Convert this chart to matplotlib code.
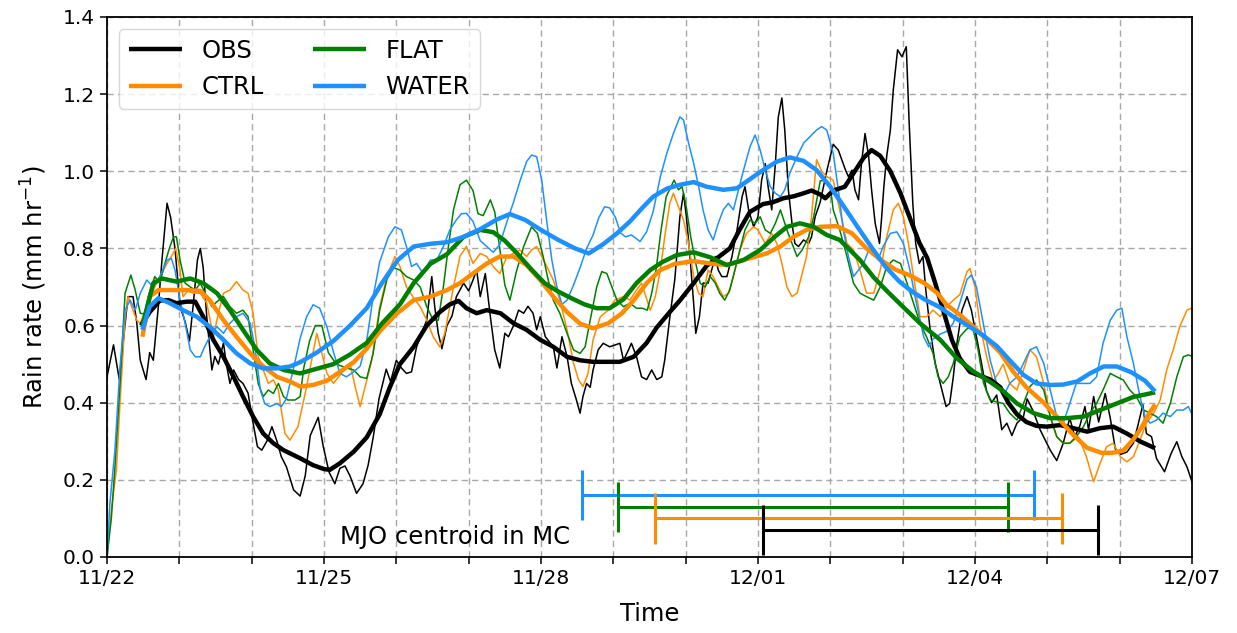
import numpy as np
import matplotlib
matplotlib.use("Agg")
import matplotlib.pyplot as plt
from matplotlib.ticker import MultipleLocator, FormatStrFormatter

# ---------------- data (time in days since 11/22 00Z) ----------------
obs_thin_t = [0.0, 0.09, 0.17, 0.29, 0.36, 0.41, 0.46, 0.54, 0.59, 0.64, 0.71, 0.76, 0.83, 0.88, 0.94, 1.01, 1.08, 1.14, 1.19, 1.25, 1.29, 1.33, 1.38, 1.45, 1.49, 1.54, 1.61, 1.65, 1.70, 1.75, 1.82, 1.88, 1.95, 2.02, 2.08, 2.14, 2.21, 2.28, 2.35, 2.41, 2.48, 2.58, 2.67, 2.74, 2.81, 2.92, 2.99, 3.07, 3.15, 3.22, 3.29, 3.36, 3.45, 3.54, 3.61, 3.68, 3.76, 3.86, 3.92, 4.0, 4.07, 4.14, 4.21, 4.28, 4.35, 4.42, 4.49, 4.53, 4.58, 4.63, 4.70, 4.77, 4.83, 4.93, 5.0, 5.06, 5.11, 5.16, 5.23, 5.30, 5.36, 5.43, 5.5, 5.55, 5.62, 5.69, 5.76, 5.82, 5.89, 5.94, 5.99, 6.06, 6.17, 6.22, 6.29, 6.36, 6.42, 6.49, 6.54, 6.58, 6.63, 6.68, 6.72, 6.79, 6.86, 6.95, 7.09, 7.14, 7.21, 7.25, 7.32, 7.39, 7.46, 7.53, 7.60, 7.67, 7.71, 7.78, 7.85, 7.92, 7.97, 8.01, 8.06, 8.11, 8.14, 8.19, 8.24, 8.31, 8.36, 8.41, 8.45, 8.5, 8.57, 8.64, 8.71, 8.78, 8.82, 8.87, 8.94, 9.0, 9.05, 9.1, 9.14, 9.19, 9.24, 9.28, 9.33, 9.37, 9.42, 9.47, 9.51, 9.56, 9.63, 9.7, 9.74, 9.79, 9.86, 9.95, 10.04, 10.11, 10.21, 10.25, 10.3, 10.34, 10.39, 10.43, 10.48, 10.53, 10.57, 10.62, 10.68, 10.71, 10.74, 10.78, 10.83, 10.87, 10.93, 10.99, 11.05, 11.09, 11.14, 11.18, 11.23, 11.28, 11.32, 11.38, 11.45, 11.52, 11.6, 11.65, 11.7, 11.75, 11.82, 11.89, 11.95, 12.02, 12.09, 12.16, 12.23, 12.3, 12.37, 12.44, 12.51, 12.58, 12.67, 12.72, 12.8, 12.9, 13.04, 13.13, 13.22, 13.31, 13.38, 13.45, 13.52, 13.57, 13.64, 13.71, 13.8, 13.87, 13.94, 14.01, 14.1, 14.19, 14.26, 14.32, 14.37, 14.44, 14.51, 14.62, 14.71, 14.79, 14.86, 14.93, 15.0]
obs_thin_v = [0.467, 0.55, 0.46, 0.675, 0.675, 0.61, 0.51, 0.46, 0.53, 0.51, 0.65, 0.77, 0.917, 0.88, 0.80, 0.65, 0.61, 0.56, 0.65, 0.77, 0.80, 0.75, 0.62, 0.485, 0.52, 0.50, 0.555, 0.50, 0.45, 0.485, 0.46, 0.45, 0.425, 0.347, 0.286, 0.277, 0.30, 0.338, 0.30, 0.26, 0.234, 0.174, 0.158, 0.21, 0.315, 0.362, 0.286, 0.22, 0.19, 0.23, 0.236, 0.21, 0.165, 0.19, 0.238, 0.31, 0.41, 0.487, 0.455, 0.51, 0.49, 0.476, 0.48, 0.545, 0.58, 0.614, 0.727, 0.65, 0.58, 0.54, 0.60, 0.625, 0.675, 0.71, 0.69, 0.718, 0.744, 0.675, 0.735, 0.623, 0.537, 0.49, 0.58, 0.571, 0.60, 0.64, 0.632, 0.65, 0.632, 0.589, 0.623, 0.571, 0.545, 0.49, 0.571, 0.52, 0.45, 0.407, 0.373, 0.416, 0.45, 0.44, 0.485, 0.537, 0.554, 0.545, 0.554, 0.51, 0.537, 0.554, 0.52, 0.467, 0.46, 0.485, 0.46, 0.467, 0.51, 0.62, 0.72, 0.882, 0.943, 0.882, 0.779, 0.658, 0.58, 0.623, 0.71, 0.71, 0.744, 0.779, 0.744, 0.727, 0.727, 0.779, 0.848, 0.934, 0.96, 0.90, 0.856, 0.882, 0.977, 1.02, 0.96, 0.90, 1.02, 1.14, 1.19, 1.107, 0.952, 0.865, 0.813, 0.805, 0.822, 0.813, 0.83, 0.882, 0.92, 1.0, 1.07, 1.055, 1.003, 0.986, 1.003, 0.952, 0.926, 1.02, 1.098, 1.038, 0.952, 0.865, 0.813, 0.882, 0.96, 1.04, 1.107, 1.21, 1.315, 1.297, 1.323, 1.124, 0.917, 0.813, 0.761, 0.779, 0.692, 0.589, 0.502, 0.45, 0.39, 0.398, 0.467, 0.554, 0.64, 0.675, 0.64, 0.571, 0.502, 0.43, 0.40, 0.42, 0.33, 0.347, 0.315, 0.347, 0.364, 0.41, 0.38, 0.33, 0.277, 0.25, 0.295, 0.36, 0.312, 0.34, 0.39, 0.33, 0.416, 0.35, 0.424, 0.36, 0.28, 0.266, 0.272, 0.295, 0.347, 0.395, 0.32, 0.312, 0.255, 0.221, 0.268, 0.299, 0.26, 0.234, 0.195]

ctrl_thin_t = [0.0, 0.065, 0.13, 0.18, 0.25, 0.29, 0.36, 0.41, 0.46, 0.55, 0.64, 0.73, 0.83, 0.89, 0.95, 1.01, 1.05, 1.12, 1.19, 1.29, 1.38, 1.47, 1.54, 1.61, 1.70, 1.79, 1.88, 1.95, 2.02, 2.09, 2.16, 2.23, 2.30, 2.37, 2.41, 2.46, 2.53, 2.64, 2.76, 2.9, 2.97, 3.04, 3.13, 3.24, 3.36, 3.43, 3.5, 3.57, 3.66, 3.77, 3.87, 3.98, 4.05, 4.14, 4.26, 4.33, 4.42, 4.51, 4.6, 4.67, 4.79, 4.88, 4.97, 5.06, 5.16, 5.25, 5.34, 5.43, 5.53, 5.62, 5.71, 5.8, 5.87, 5.94, 6.01, 6.08, 6.17, 6.26, 6.36, 6.45, 6.52, 6.58, 6.65, 6.72, 6.82, 6.93, 7.02, 7.14, 7.23, 7.32, 7.39, 7.45, 7.51, 7.58, 7.65, 7.71, 7.78, 7.83, 7.9, 7.97, 8.04, 8.11, 8.18, 8.24, 8.31, 8.38, 8.45, 8.52, 8.59, 8.66, 8.75, 8.84, 8.94, 9.0, 9.1, 9.19, 9.26, 9.33, 9.4, 9.47, 9.54, 9.6, 9.67, 9.74, 9.81, 9.88, 9.95, 10.04, 10.13, 10.23, 10.32, 10.41, 10.5, 10.6, 10.69, 10.78, 10.87, 10.94, 11.01, 11.08, 11.15, 11.24, 11.33, 11.42, 11.52, 11.61, 11.7, 11.79, 11.89, 11.93, 12.0, 12.07, 12.16, 12.25, 12.32, 12.39, 12.48, 12.58, 12.67, 12.76, 12.85, 12.95, 13.04, 13.13, 13.22, 13.31, 13.43, 13.54, 13.64, 13.73, 13.82, 13.91, 14.01, 14.1, 14.19, 14.28, 14.37, 14.47, 14.56, 14.65, 14.74, 14.83, 14.93, 14.99]
ctrl_thin_v = [0.0, 0.13, 0.226, 0.40, 0.62, 0.675, 0.64, 0.614, 0.606, 0.65, 0.692, 0.727, 0.761, 0.779, 0.80, 0.744, 0.675, 0.69, 0.684, 0.684, 0.658, 0.571, 0.632, 0.684, 0.692, 0.714, 0.692, 0.684, 0.632, 0.519, 0.485, 0.45, 0.459, 0.433, 0.381, 0.32, 0.303, 0.338, 0.442, 0.58, 0.528, 0.476, 0.45, 0.476, 0.502, 0.442, 0.39, 0.442, 0.51, 0.649, 0.727, 0.779, 0.753, 0.70, 0.666, 0.649, 0.614, 0.571, 0.545, 0.58, 0.70, 0.78, 0.805, 0.761, 0.787, 0.779, 0.753, 0.735, 0.779, 0.787, 0.796, 0.779, 0.796, 0.805, 0.779, 0.753, 0.718, 0.666, 0.589, 0.502, 0.459, 0.442, 0.476, 0.563, 0.623, 0.64, 0.666, 0.675, 0.666, 0.692, 0.71, 0.675, 0.64, 0.675, 0.744, 0.83, 0.917, 0.943, 0.908, 0.874, 0.813, 0.727, 0.684, 0.675, 0.744, 0.727, 0.70, 0.675, 0.684, 0.727, 0.796, 0.839, 0.856, 0.848, 0.813, 0.839, 0.813, 0.761, 0.70, 0.675, 0.684, 0.727, 0.779, 0.882, 1.03, 1.0, 0.986, 0.977, 0.90, 0.813, 0.796, 0.744, 0.684, 0.684, 0.744, 0.83, 0.90, 0.917, 0.882, 0.813, 0.727, 0.623, 0.623, 0.64, 0.623, 0.649, 0.666, 0.68, 0.74, 0.748, 0.70, 0.60, 0.52, 0.455, 0.476, 0.50, 0.45, 0.433, 0.485, 0.537, 0.519, 0.45, 0.364, 0.312, 0.295, 0.295, 0.312, 0.26, 0.195, 0.243, 0.286, 0.295, 0.26, 0.247, 0.26, 0.303, 0.347, 0.373, 0.407, 0.485, 0.537, 0.597, 0.64, 0.645]

flat_thin_t = [0.0, 0.06, 0.11, 0.18, 0.25, 0.33, 0.39, 0.46, 0.52, 0.57, 0.66, 0.73, 0.80, 0.87, 0.92, 0.96, 1.01, 1.08, 1.15, 1.22, 1.29, 1.38, 1.45, 1.52, 1.61, 1.70, 1.79, 1.88, 1.95, 2.02, 2.09, 2.16, 2.23, 2.30, 2.37, 2.44, 2.5, 2.6, 2.67, 2.72, 2.8, 2.88, 2.97, 3.06, 3.17, 3.31, 3.41, 3.5, 3.59, 3.68, 3.77, 3.87, 3.96, 4.05, 4.14, 4.24, 4.33, 4.42, 4.51, 4.58, 4.65, 4.72, 4.79, 4.88, 4.97, 5.06, 5.13, 5.2, 5.3, 5.36, 5.43, 5.5, 5.57, 5.66, 5.76, 5.87, 5.95, 6.03, 6.1, 6.17, 6.26, 6.36, 6.45, 6.54, 6.61, 6.68, 6.77, 6.84, 6.91, 6.98, 7.05, 7.14, 7.23, 7.32, 7.4, 7.47, 7.53, 7.59, 7.66, 7.73, 7.84, 7.9, 7.95, 8.0, 8.07, 8.14, 8.2, 8.27, 8.34, 8.41, 8.47, 8.54, 8.61, 8.68, 8.75, 8.82, 8.89, 8.96, 9.03, 9.1, 9.17, 9.24, 9.31, 9.4, 9.47, 9.54, 9.61, 9.7, 9.77, 9.86, 9.93, 10.0, 10.04, 10.13, 10.23, 10.32, 10.41, 10.5, 10.6, 10.69, 10.78, 10.87, 10.97, 11.06, 11.15, 11.24, 11.33, 11.42, 11.49, 11.56, 11.63, 11.7, 11.79, 11.88, 11.96, 12.04, 12.12, 12.21, 12.3, 12.39, 12.48, 12.58, 12.67, 12.76, 12.85, 12.95, 13.04, 13.13, 13.22, 13.31, 13.4, 13.5, 13.59, 13.68, 13.77, 13.87, 13.96, 14.05, 14.14, 14.23, 14.33, 14.42, 14.51, 14.6, 14.7, 14.79, 14.88, 14.95, 15.0]
flat_thin_v = [0.0, 0.10, 0.234, 0.45, 0.684, 0.731, 0.692, 0.632, 0.63, 0.675, 0.727, 0.71, 0.761, 0.805, 0.83, 0.83, 0.77, 0.71, 0.70, 0.692, 0.71, 0.675, 0.649, 0.662, 0.675, 0.649, 0.632, 0.64, 0.623, 0.537, 0.45, 0.416, 0.433, 0.424, 0.45, 0.416, 0.407, 0.407, 0.416, 0.49, 0.56, 0.60, 0.60, 0.53, 0.50, 0.49, 0.485, 0.467, 0.463, 0.528, 0.64, 0.72, 0.75, 0.744, 0.727, 0.718, 0.70, 0.649, 0.614, 0.614, 0.70, 0.805, 0.90, 0.965, 0.977, 0.95, 0.89, 0.885, 0.926, 0.895, 0.80, 0.705, 0.666, 0.74, 0.805, 0.856, 0.839, 0.779, 0.718, 0.666, 0.632, 0.58, 0.537, 0.528, 0.545, 0.614, 0.70, 0.74, 0.735, 0.70, 0.666, 0.649, 0.658, 0.645, 0.645, 0.64, 0.684, 0.744, 0.848, 0.934, 0.977, 0.952, 0.96, 0.917, 0.83, 0.761, 0.71, 0.70, 0.727, 0.71, 0.684, 0.666, 0.692, 0.744, 0.796, 0.848, 0.874, 0.865, 0.882, 0.848, 0.839, 0.865, 0.90, 0.848, 0.813, 0.779, 0.796, 0.83, 0.882, 0.975, 0.977, 0.96, 0.90, 0.848, 0.779, 0.71, 0.684, 0.675, 0.666, 0.70, 0.753, 0.77, 0.761, 0.71, 0.658, 0.606, 0.571, 0.528, 0.467, 0.45, 0.467, 0.502, 0.571, 0.59, 0.60, 0.54, 0.45, 0.407, 0.402, 0.398, 0.373, 0.355, 0.398, 0.442, 0.459, 0.433, 0.364, 0.312, 0.295, 0.295, 0.312, 0.338, 0.373, 0.398, 0.433, 0.476, 0.467, 0.459, 0.433, 0.416, 0.381, 0.373, 0.364, 0.347, 0.398, 0.467, 0.519, 0.524, 0.52]

water_thin_t = [0.0, 0.04, 0.11, 0.18, 0.25, 0.32, 0.39, 0.46, 0.55, 0.64, 0.73, 0.83, 0.89, 0.94, 1.01, 1.08, 1.15, 1.22, 1.29, 1.35, 1.42, 1.52, 1.61, 1.70, 1.79, 1.88, 1.98, 2.05, 2.12, 2.18, 2.25, 2.35, 2.41, 2.48, 2.58, 2.67, 2.76, 2.85, 2.94, 3.04, 3.13, 3.22, 3.31, 3.41, 3.5, 3.59, 3.68, 3.77, 3.89, 3.98, 4.07, 4.14, 4.21, 4.28, 4.37, 4.47, 4.56, 4.65, 4.74, 4.83, 4.9, 4.97, 5.06, 5.16, 5.25, 5.34, 5.43, 5.53, 5.62, 5.71, 5.8, 5.87, 5.94, 6.01, 6.08, 6.15, 6.22, 6.29, 6.36, 6.45, 6.54, 6.63, 6.72, 6.8, 6.88, 6.95, 7.03, 7.1, 7.17, 7.25, 7.37, 7.46, 7.55, 7.65, 7.74, 7.83, 7.92, 7.97, 8.04, 8.11, 8.18, 8.24, 8.31, 8.38, 8.45, 8.52, 8.59, 8.66, 8.73, 8.8, 8.89, 8.96, 9.03, 9.1, 9.17, 9.24, 9.31, 9.37, 9.44, 9.54, 9.63, 9.72, 9.81, 9.88, 9.95, 10.04, 10.11, 10.18, 10.25, 10.32, 10.39, 10.46, 10.53, 10.6, 10.66, 10.73, 10.83, 10.92, 11.01, 11.1, 11.19, 11.29, 11.36, 11.42, 11.52, 11.61, 11.7, 11.79, 11.89, 11.95, 12.02, 12.12, 12.21, 12.3, 12.39, 12.48, 12.58, 12.67, 12.76, 12.85, 12.95, 13.04, 13.13, 13.22, 13.31, 13.4, 13.5, 13.59, 13.68, 13.77, 13.87, 13.96, 14.03, 14.1, 14.19, 14.28, 14.35, 14.42, 14.51, 14.6, 14.7, 14.79, 14.88, 14.95, 15.0]
water_thin_v = [0.0, 0.139, 0.277, 0.494, 0.64, 0.666, 0.64, 0.684, 0.718, 0.70, 0.727, 0.77, 0.774, 0.744, 0.666, 0.606, 0.537, 0.519, 0.519, 0.545, 0.571, 0.597, 0.58, 0.606, 0.623, 0.632, 0.606, 0.537, 0.433, 0.398, 0.39, 0.398, 0.39, 0.41, 0.49, 0.567, 0.623, 0.654, 0.645, 0.597, 0.532, 0.476, 0.467, 0.48, 0.495, 0.56, 0.675, 0.765, 0.83, 0.856, 0.848, 0.805, 0.753, 0.761, 0.735, 0.77, 0.77, 0.805, 0.848, 0.874, 0.89, 0.891, 0.87, 0.82, 0.805, 0.79, 0.81, 0.87, 0.92, 0.975, 1.025, 1.042, 1.038, 0.977, 0.87, 0.77, 0.70, 0.655, 0.666, 0.705, 0.75, 0.80, 0.835, 0.88, 0.908, 0.905, 0.88, 0.84, 0.83, 0.835, 0.818, 0.843, 0.895, 0.986, 1.047, 1.098, 1.141, 1.133, 1.073, 1.021, 0.96, 0.90, 0.848, 0.822, 0.865, 0.90, 0.917, 0.90, 0.952, 1.003, 1.064, 1.094, 1.055, 1.003, 0.96, 0.943, 0.934, 0.952, 0.995, 1.038, 1.073, 1.09, 1.107, 1.116, 1.107, 1.047, 0.952, 0.848, 0.779, 0.727, 0.744, 0.761, 0.796, 0.787, 0.77, 0.805, 0.839, 0.843, 0.813, 0.744, 0.658, 0.571, 0.545, 0.565, 0.578, 0.585, 0.606, 0.658, 0.72, 0.731, 0.70, 0.60, 0.51, 0.45, 0.416, 0.45, 0.467, 0.502, 0.537, 0.545, 0.502, 0.433, 0.364, 0.347, 0.398, 0.45, 0.45, 0.45, 0.467, 0.554, 0.614, 0.64, 0.645, 0.571, 0.502, 0.416, 0.364, 0.347, 0.355, 0.373, 0.364, 0.381, 0.381, 0.39, 0.37]

obs_thick_t = [0.47, 0.59, 0.73, 0.85, 0.96, 1.1, 1.22, 1.33, 1.47, 1.61, 1.75, 1.88, 2.02, 2.16, 2.3, 2.44, 2.67, 2.85, 3.0, 3.08, 3.22, 3.41, 3.59, 3.77, 3.91, 4.05, 4.24, 4.42, 4.6, 4.74, 4.86, 4.97, 5.11, 5.25, 5.44, 5.62, 5.8, 5.99, 6.17, 6.36, 6.54, 6.72, 6.91, 7.09, 7.28, 7.46, 7.6, 7.78, 7.92, 8.11, 8.29, 8.47, 8.61, 8.75, 8.89, 9.07, 9.21, 9.35, 9.49, 9.63, 9.74, 9.86, 9.93, 10.04, 10.2, 10.32, 10.46, 10.57, 10.69, 10.83, 10.97, 11.11, 11.23, 11.34, 11.45, 11.56, 11.68, 11.79, 11.93, 12.07, 12.21, 12.35, 12.46, 12.58, 12.71, 12.85, 12.99, 13.18, 13.36, 13.55, 13.73, 13.91, 14.1, 14.29, 14.49]
obs_thick_v = [0.60, 0.635, 0.665, 0.666, 0.658, 0.662, 0.662, 0.623, 0.563, 0.519, 0.467, 0.416, 0.364, 0.32, 0.295, 0.277, 0.256, 0.238, 0.228, 0.226, 0.243, 0.273, 0.31, 0.37, 0.44, 0.50, 0.545, 0.60, 0.635, 0.655, 0.664, 0.645, 0.632, 0.64, 0.632, 0.606, 0.589, 0.563, 0.545, 0.519, 0.51, 0.506, 0.506, 0.506, 0.519, 0.555, 0.595, 0.635, 0.665, 0.71, 0.755, 0.78, 0.80, 0.85, 0.895, 0.915, 0.92, 0.93, 0.935, 0.943, 0.95, 0.94, 0.93, 0.95, 0.96, 0.995, 1.035, 1.055, 1.04, 1.0, 0.943, 0.874, 0.815, 0.775, 0.71, 0.64, 0.563, 0.515, 0.48, 0.47, 0.46, 0.44, 0.40, 0.37, 0.35, 0.34, 0.338, 0.342, 0.334, 0.325, 0.334, 0.338, 0.32, 0.299, 0.282]

ctrl_thick_t = [0.49, 0.59, 0.71, 0.92, 1.1, 1.29, 1.42, 1.61, 1.79, 1.98, 2.16, 2.35, 2.53, 2.67, 2.85, 3.04, 3.22, 3.41, 3.59, 3.77, 4.0, 4.24, 4.47, 4.7, 4.88, 5.06, 5.25, 5.43, 5.62, 5.8, 5.99, 6.17, 6.36, 6.54, 6.72, 6.93, 7.12, 7.28, 7.46, 7.65, 7.85, 8.11, 8.34, 8.57, 8.8, 9.12, 9.31, 9.49, 9.67, 9.86, 10.09, 10.3, 10.5, 10.7, 10.9, 11.1, 11.3, 11.48, 11.6, 11.79, 11.97, 12.16, 12.35, 12.53, 12.71, 12.95, 13.15, 13.35, 13.55, 13.75, 13.9, 14.05, 14.19, 14.3, 14.4, 14.49]
ctrl_thick_v = [0.571, 0.675, 0.692, 0.692, 0.692, 0.69, 0.666, 0.614, 0.571, 0.528, 0.494, 0.467, 0.455, 0.442, 0.446, 0.457, 0.48, 0.505, 0.54, 0.585, 0.63, 0.666, 0.675, 0.692, 0.71, 0.735, 0.761, 0.779, 0.779, 0.757, 0.718, 0.675, 0.635, 0.605, 0.593, 0.606, 0.632, 0.665, 0.71, 0.744, 0.76, 0.767, 0.761, 0.757, 0.77, 0.787, 0.805, 0.83, 0.848, 0.856, 0.858, 0.839, 0.80, 0.77, 0.745, 0.73, 0.71, 0.684, 0.655, 0.628, 0.598, 0.565, 0.53, 0.48, 0.44, 0.40, 0.36, 0.318, 0.283, 0.27, 0.27, 0.276, 0.305, 0.335, 0.37, 0.395]

flat_thick_t = [0.49, 0.64, 0.76, 0.96, 1.15, 1.33, 1.52, 1.7, 1.88, 2.07, 2.25, 2.44, 2.67, 2.9, 3.13, 3.36, 3.59, 3.8, 4.05, 4.24, 4.47, 4.7, 4.93, 5.16, 5.34, 5.5, 5.68, 5.87, 6.05, 6.24, 6.43, 6.6, 6.77, 6.95, 7.14, 7.32, 7.51, 7.68, 7.88, 8.11, 8.34, 8.57, 8.8, 9.03, 9.23, 9.4, 9.58, 9.77, 9.95, 10.13, 10.25, 10.41, 10.6, 10.78, 10.97, 11.24, 11.52, 11.75, 11.97, 12.2, 12.39, 12.58, 12.81, 13.04, 13.27, 13.5, 13.73, 13.96, 14.19, 14.37, 14.49]
flat_thick_v = [0.60, 0.71, 0.722, 0.714, 0.722, 0.71, 0.684, 0.64, 0.589, 0.537, 0.502, 0.485, 0.476, 0.488, 0.50, 0.525, 0.555, 0.605, 0.655, 0.71, 0.76, 0.785, 0.83, 0.848, 0.842, 0.82, 0.785, 0.745, 0.71, 0.688, 0.67, 0.655, 0.645, 0.645, 0.668, 0.71, 0.744, 0.765, 0.783, 0.79, 0.777, 0.757, 0.77, 0.796, 0.83, 0.856, 0.865, 0.856, 0.835, 0.822, 0.80, 0.77, 0.725, 0.69, 0.655, 0.606, 0.563, 0.515, 0.482, 0.455, 0.43, 0.398, 0.373, 0.36, 0.36, 0.364, 0.381, 0.398, 0.415, 0.422, 0.427]

water_thick_t = [0.49, 0.59, 0.71, 0.87, 1.05, 1.24, 1.42, 1.61, 1.79, 1.98, 2.16, 2.35, 2.53, 2.67, 2.9, 3.13, 3.36, 3.59, 3.8, 4.02, 4.24, 4.47, 4.7, 4.93, 5.16, 5.39, 5.57, 5.78, 6.0, 6.24, 6.47, 6.66, 6.86, 7.05, 7.23, 7.4, 7.55, 7.74, 7.92, 8.11, 8.29, 8.52, 8.71, 8.93, 9.07, 9.26, 9.44, 9.63, 9.81, 10.0, 10.2, 10.39, 10.58, 10.76, 10.95, 11.13, 11.32, 11.5, 11.7, 11.9, 12.1, 12.3, 12.48, 12.67, 12.85, 13.04, 13.22, 13.41, 13.59, 13.78, 13.96, 14.16, 14.35, 14.49]
water_thick_v = [0.589, 0.649, 0.671, 0.658, 0.64, 0.623, 0.597, 0.563, 0.528, 0.502, 0.489, 0.489, 0.494, 0.505, 0.53, 0.56, 0.60, 0.645, 0.71, 0.77, 0.805, 0.812, 0.816, 0.83, 0.85, 0.875, 0.889, 0.874, 0.848, 0.822, 0.80, 0.787, 0.811, 0.839, 0.87, 0.905, 0.934, 0.955, 0.965, 0.972, 0.96, 0.952, 0.956, 0.985, 1.003, 1.025, 1.036, 1.027, 1.003, 0.96, 0.905, 0.852, 0.80, 0.753, 0.715, 0.688, 0.666, 0.649, 0.623, 0.60, 0.576, 0.547, 0.51, 0.472, 0.45, 0.446, 0.447, 0.455, 0.476, 0.494, 0.494, 0.479, 0.457, 0.429]

# MJO centroid-in-MC periods (start day, end day, bar height)
mjo_names = ["WATER", "FLAT", "CTRL", "OBS"]
mjo_start = [6.57, 7.07, 7.57, 9.07]
mjo_end = [12.82, 12.45, 13.20, 13.70]
mjo_level = [0.161, 0.130, 0.100, 0.070]

names = ["OBS", "CTRL", "FLAT", "WATER"]
colors = {"OBS": "black", "CTRL": "darkorange", "FLAT": "green", "WATER": "dodgerblue"}

xtick_days = [0, 3, 6, 9, 12, 15]
xtick_labels = ["11/22", "11/25", "11/28", "12/01", "12/04", "12/07"]

# ---------------- plotting ----------------
plt.rcParams['font.family'] = ['DejaVu Sans']
fig = plt.figure(figsize=(12.37, 6.33), dpi=100)
ax = fig.add_axes([107/1237, 76/633, 1085/1237, 540/633])

thin = {"OBS": (obs_thin_t, obs_thin_v), "CTRL": (ctrl_thin_t, ctrl_thin_v),
        "FLAT": (flat_thin_t, flat_thin_v), "WATER": (water_thin_t, water_thin_v)}
thick = {"OBS": (obs_thick_t, obs_thick_v), "CTRL": (ctrl_thick_t, ctrl_thick_v),
         "FLAT": (flat_thick_t, flat_thick_v), "WATER": (water_thick_t, water_thick_v)}

for n in names:
    t, v = thin[n]
    ax.plot(t, v, color=colors[n], lw=1.1, zorder=2)
for n in names:
    t, v = thick[n]
    ax.plot(t, v, color=colors[n], lw=3.2, zorder=3, label=n,
            solid_capstyle='butt', solid_joinstyle='round')

cap = 0.065
for n, s, e, y in zip(mjo_names, mjo_start, mjo_end, mjo_level):
    c = colors[n]
    ax.plot([s, e], [y, y], color=c, lw=2.2, zorder=4, solid_capstyle='butt')
    ax.plot([s, s], [y - cap, y + cap], color=c, lw=2.2, zorder=4, solid_capstyle='butt')
    ax.plot([e, e], [y - cap, y + cap], color=c, lw=2.2, zorder=4, solid_capstyle='butt')

ax.text(3.22, 0.053, "MJO centroid in MC", fontsize=17.5, ha='left', va='center')

ax.set_xlim(0, 15)
ax.set_ylim(0, 1.4)
ax.set_xticks(xtick_days)
ax.set_xticklabels(xtick_labels)
ax.xaxis.set_minor_locator(MultipleLocator(1))
ax.yaxis.set_major_locator(MultipleLocator(0.2))
ax.yaxis.set_major_formatter(FormatStrFormatter('%.1f'))
ax.tick_params(axis='both', which='major', labelsize=14.5, length=5, width=1.1)
ax.tick_params(axis='x', which='minor', length=5, width=1.1)
gridkw = dict(color='#a8a8a8', linestyle=(0, (4.5, 3)), lw=1.0)
ax.grid(True, which='both', axis='x', **gridkw)
ax.grid(True, which='major', axis='y', **gridkw)
ax.set_axisbelow(True)
for sp in ax.spines.values():
    sp.set_linewidth(1.3)

ax.set_xlabel("Time", fontsize=17.5, labelpad=10)
ax.set_ylabel("Rain rate (mm hr$^{-1}$)", fontsize=17.5, labelpad=10)

ax.legend(loc='upper left', ncol=2, fontsize=17.5, handlelength=2.2, framealpha=0.8)

fig.savefig("out.png", dpi=100)
